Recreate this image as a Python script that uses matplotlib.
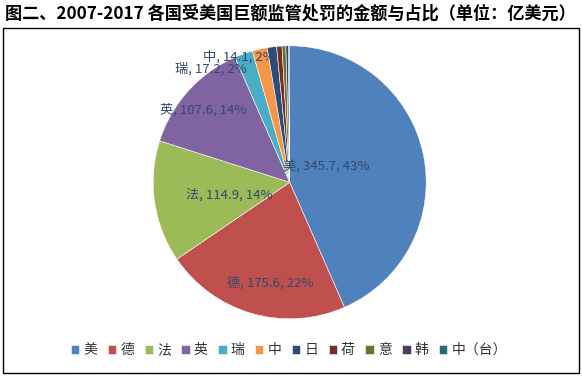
import matplotlib
matplotlib.use("Agg")
import matplotlib.pyplot as plt
from matplotlib.patches import Rectangle

plt.rcParams["font.family"] = ["Noto Sans CJK SC", "DejaVu Sans"]

# ── Data (亿美元) ─────────────────────────────────────────────────────────
COUNTRIES = ["美", "德", "法", "英", "瑞", "中", "日", "荷", "意", "韩", "中（台）"]
AMOUNTS = [345.7, 175.6, 114.9, 107.6, 17.2, 14.1, 8.8, 5.0, 3.6, 2.4, 1.2]
PCT_LABELS = ["43%", "22%", "14%", "14%", "2%", "2%"]

COLORS = ["#4F81BD", "#C0504D", "#9BBB59", "#8064A2", "#4BACC6", "#F79646",
          "#2C4D75", "#772C2A", "#5F7530", "#4D3B62", "#276A7C"]

# label anchor points (pie radius = 1) for the labelled slices
LABEL_POS = [(0.27, 0.11), (-0.14, -0.74), (-0.44, -0.09),
             (-0.63, 0.53), (-0.58, 0.83), (-0.37, 0.92)]

TITLE = "图二、2007-2017 各国受美国巨额监管处罚的金额与占比（单位：亿美元）"

W, H = 582, 377
fig = plt.figure(figsize=(W / 100, H / 100), dpi=100)
fig.patch.set_facecolor("white")

# pie centre (289.7, 182.3) px, radius 136.5 px
lim = 1.2
r_px = 136.5
cx, cy = 289.7, 182.3
ax = fig.add_axes([(cx - lim * r_px) / W, (H - cy - lim * r_px) / H,
                   2 * lim * r_px / W, 2 * lim * r_px / H])

wedges, _ = ax.pie(AMOUNTS, colors=COLORS, startangle=90, counterclock=False,
                   wedgeprops=dict(edgecolor="white", linewidth=0.4))
ax.set_xlim(-lim, lim)
ax.set_ylim(-lim, lim)

for name, val, pct, (x, y) in zip(COUNTRIES, AMOUNTS, PCT_LABELS, LABEL_POS):
    ax.text(x, y, f"{name}, {val}, {pct}", ha="center", va="center",
            fontsize=9.5, color="#34496F")

fig.legend(wedges, COUNTRIES, loc="center", ncol=len(COUNTRIES),
           bbox_to_anchor=(289 / W, 1 - 350 / H), frameon=False,
           fontsize=10, handlelength=0.6, handleheight=0.6,
           handletextpad=0.3, columnspacing=0.75, labelcolor="#333333")

fig.text(5 / W, 1 - 14 / H, TITLE, ha="left", va="center",
         fontsize=12.35, fontweight="bold", color="black")

fig.add_artist(Rectangle((3 / W, 1 - 373 / H), 576 / W, 345 / H,
                         transform=fig.transFigure, fill=False,
                         edgecolor="black", linewidth=1.0))

fig.savefig("out.png", dpi=100)
